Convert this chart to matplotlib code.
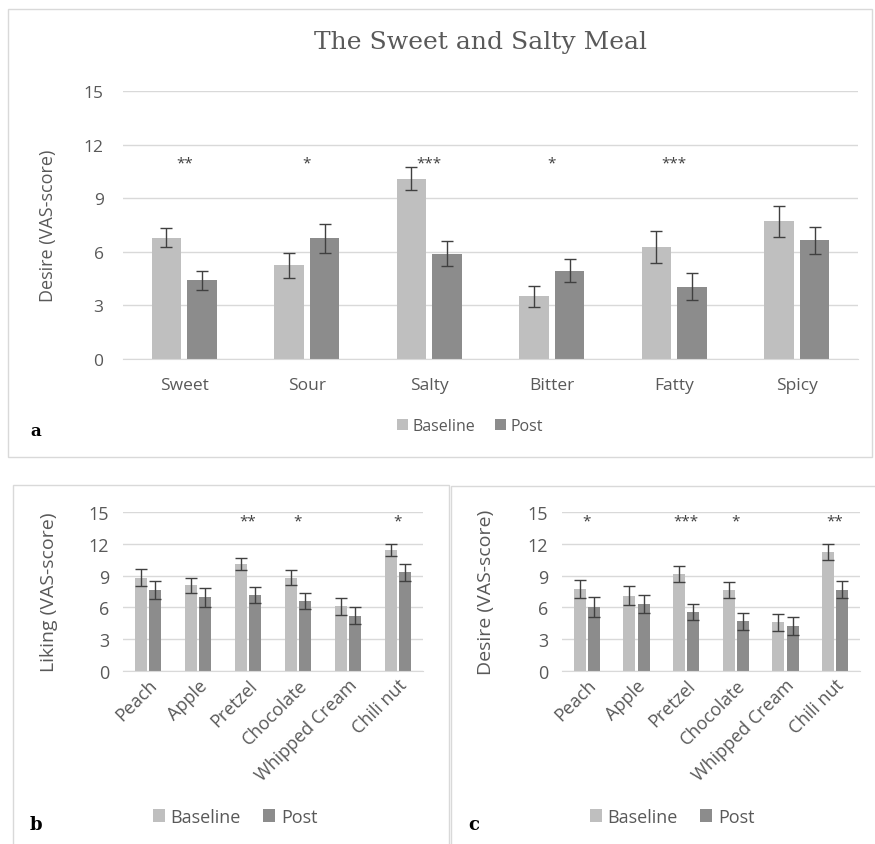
import matplotlib.pyplot as plt
import numpy as np
from matplotlib.patches import Rectangle

# top panel: tastes
tastes = ["Sweet", "Sour", "Salty", "Bitter", "Fatty", "Spicy"]
taste_base = [6.8, 5.25, 10.1, 3.5, 6.25, 7.7]
taste_base_err = [0.55, 0.7, 0.65, 0.6, 0.9, 0.85]
taste_post = [4.4, 6.75, 5.9, 4.95, 4.05, 6.65]
taste_post_err = [0.55, 0.8, 0.7, 0.65, 0.75, 0.75]
taste_stars = ["**", "*", "***", "*", "***", ""]

# bottom panels: foods
foods = ["Peach", "Apple", "Pretzel", "Chocolate", "Whipped Cream", "Chili nut"]
liking_base = [8.8, 8.1, 10.1, 8.8, 6.1, 11.4]
liking_base_err = [0.8, 0.7, 0.6, 0.7, 0.8, 0.55]
liking_post = [7.6, 6.95, 7.2, 6.6, 5.2, 9.3]
liking_post_err = [0.85, 0.9, 0.75, 0.75, 0.8, 0.8]
liking_stars = ["", "", "**", "*", "", "*"]

desire_base = [7.7, 7.1, 9.15, 7.6, 4.6, 11.2]
desire_base_err = [0.85, 0.9, 0.8, 0.75, 0.8, 0.75]
desire_post = [6.0, 6.3, 5.6, 4.7, 4.2, 7.65]
desire_post_err = [0.95, 0.85, 0.75, 0.8, 0.85, 0.8]
desire_stars = ["*", "", "***", "*", "", "**"]

C_BASE = "#bfbfbf"
C_POST = "#8c8c8c"
C_TEXT = "#595959"
C_GRID = "#d9d9d9"
SANS = ["Open Sans", "DejaVu Sans"]

W, H = 875, 845
fig = plt.figure(figsize=(8.75, 8.45), dpi=100)


def box(x0, y0, x1, y1):
    # pixel coords -> figure fraction
    return [x0 / W, 1 - y1 / H, (x1 - x0) / W, (y1 - y0) / H]


def bars(ax, cats, base, base_err, post, post_err, stars, star_y, fs, rot):
    x = np.arange(len(cats))
    w = 0.24
    ax.bar(x - 0.145, base, w, color=C_BASE, label="Baseline", zorder=2)
    ax.bar(x + 0.145, post, w, color=C_POST, label="Post", zorder=2)
    ax.errorbar(x - 0.145, base, yerr=base_err, fmt="none", ecolor="#404040",
                elinewidth=1, capsize=4, capthick=1, zorder=3)
    ax.errorbar(x + 0.145, post, yerr=post_err, fmt="none", ecolor="#404040",
                elinewidth=1, capsize=4, capthick=1, zorder=3)
    for i, s in enumerate(stars):
        if s:
            ax.text(i, star_y, s, ha="center", va="center", fontsize=11,
                    color="#404040", family=SANS)
    ax.set_xlim(-0.5, len(cats) - 0.5)
    ax.set_ylim(0, 15)
    ax.set_yticks([0, 3, 6, 9, 12, 15])
    ax.set_xticks(x)
    if rot:
        ax.set_xticklabels(cats, rotation=45, ha="right", rotation_mode="anchor")
    else:
        ax.set_xticklabels(cats)
    ax.grid(axis="y", color=C_GRID, linewidth=1, zorder=0)
    ax.set_axisbelow(True)
    for sp in ["top", "right", "left"]:
        ax.spines[sp].set_visible(False)
    ax.spines["bottom"].set_color(C_GRID)
    ax.tick_params(length=0, colors=C_TEXT, labelsize=fs)
    for lab in ax.get_xticklabels() + ax.get_yticklabels():
        lab.set_family(SANS)


# panel borders
for b in [(8, 10, 872, 458), (13, 486, 449, 846), (451, 487, 876, 846)]:
    fig.add_artist(Rectangle((b[0] / W, 1 - b[3] / H), (b[2] - b[0]) / W,
                             (b[3] - b[1]) / H, transform=fig.transFigure,
                             fill=False, edgecolor="#d9d9d9", linewidth=1))

# panel a
ax1 = fig.add_axes(box(123, 92, 858, 360))
bars(ax1, tastes, taste_base, taste_base_err, taste_post, taste_post_err,
     taste_stars, 10.95, 12.5, False)
ax1.tick_params(axis="x", pad=13)
ax1.tick_params(axis="y", pad=14)
ax1.set_ylabel("Desire (VAS-score)", fontsize=13, color=C_TEXT, family=SANS)
ax1.yaxis.set_label_coords(-0.09, 0.5)
fig.text(480 / W, 1 - 42 / H, "The Sweet and Salty Meal", ha="center", va="center",
         fontsize=18, color=C_TEXT, family="DejaVu Serif")
ax1.legend(loc="center", bbox_to_anchor=(470 / W, 1 - 427 / H),
           bbox_transform=fig.transFigure, ncol=2, frameon=False,
           handlelength=0.7, handleheight=0.7, handletextpad=0.3, columnspacing=1.2,
           labelcolor=C_TEXT, prop={"family": SANS, "size": 11.5})
fig.text(30 / W, 1 - 432 / H, "a", fontsize=12, fontweight="bold", family="DejaVu Serif",
         va="center")

# panel b
ax2 = fig.add_axes(box(123, 513, 423, 672))
bars(ax2, foods, liking_base, liking_base_err, liking_post, liking_post_err,
     liking_stars, 14.2, 13, True)
ax2.tick_params(axis="y", pad=10)
ax2.set_ylabel("Liking (VAS-score)", fontsize=14, color=C_TEXT, family=SANS)
ax2.yaxis.set_label_coords(-0.217, 0.5)
ax2.legend(loc="center", bbox_to_anchor=(235 / W, 1 - 818 / H),
           bbox_transform=fig.transFigure, ncol=2, frameon=False,
           handlelength=0.7, handleheight=0.7, handletextpad=0.3, columnspacing=1.2,
           labelcolor=C_TEXT, prop={"family": SANS, "size": 13})
fig.text(30 / W, 1 - 825 / H, "b", fontsize=13, fontweight="bold", family="DejaVu Serif",
         va="center")

# panel c
ax3 = fig.add_axes(box(562, 513, 860, 672))
bars(ax3, foods, desire_base, desire_base_err, desire_post, desire_post_err,
     desire_stars, 14.2, 13, True)
ax3.tick_params(axis="y", pad=10)
ax3.set_ylabel("Desire (VAS-score)", fontsize=14, color=C_TEXT, family=SANS)
ax3.yaxis.set_label_coords(-0.225, 0.5)
ax3.legend(loc="center", bbox_to_anchor=(672 / W, 1 - 818 / H),
           bbox_transform=fig.transFigure, ncol=2, frameon=False,
           handlelength=0.7, handleheight=0.7, handletextpad=0.3, columnspacing=1.2,
           labelcolor=C_TEXT, prop={"family": SANS, "size": 13})
fig.text(468 / W, 1 - 825 / H, "c", fontsize=13, fontweight="bold", family="DejaVu Serif",
         va="center")

fig.savefig("out.png", dpi=100, facecolor="white")
